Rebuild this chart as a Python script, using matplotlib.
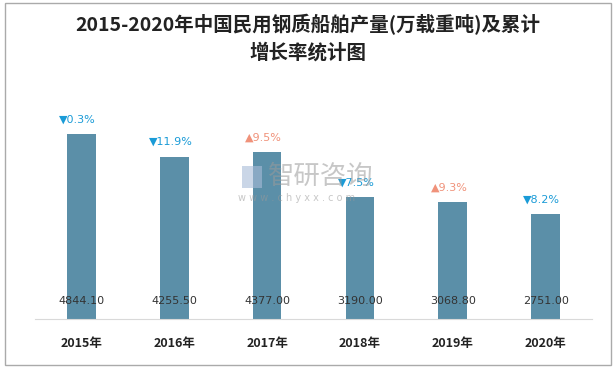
import numpy as np
import matplotlib
matplotlib.use('Agg')
import matplotlib.pyplot as plt
from matplotlib.patches import Rectangle

plt.rcParams['font.family'] = ['Noto Sans CJK SC', 'DejaVu Sans']

# データ
years = ['2015年', '2016年', '2017年', '2018年', '2019年', '2020年']
output = [4844.10, 4255.50, 4377.00, 3190.00, 3068.80, 2751.00]
growth = [-0.3, -11.9, 9.5, -7.5, 9.3, -8.2]

bar_color = '#5b8fa8'
down_color = '#1a9bd7'
up_color = '#f0927a'

fig = plt.figure(figsize=(6.16, 3.68), dpi=100)
ax = fig.add_axes([35 / 616, 1 - 319 / 368, 557 / 616, 229 / 368])

x = np.arange(len(years))
bars = ax.bar(x, output, width=0.31, color=bar_color, zorder=2)

ax.set_ylim(0, 6000)
ax.set_xlim(-0.5, len(years) - 0.5)
ax.set_yticks([])
ax.set_xticks(x)
ax.set_xticklabels(years, fontsize=9, fontweight='bold', color='#222222')
ax.tick_params(axis='x', length=0, pad=13)
for s in ['top', 'right', 'left']:
    ax.spines[s].set_visible(False)
ax.spines['bottom'].set_color('#d9d9d9')

# 値ラベル（棒の下部）
for xi, v in zip(x, output):
    ax.annotate(f'{v:.2f}', (xi, 0), xytext=(0, 9), textcoords='offset points',
                ha='center', va='bottom', fontsize=8, color='#333333',
                family=['DejaVu Sans'], zorder=3)

# 増減率ラベル
for xi, v, g in zip(x, output, growth):
    mark = '▲' if g > 0 else '▼'
    col = up_color if g > 0 else down_color
    ax.annotate(f'{mark}{abs(g):.1f}%', (xi - 0.04, v), xytext=(0, 7),
                textcoords='offset points', ha='center', va='bottom',
                fontsize=8, color=col, family=['DejaVu Sans'], zorder=3)

# タイトル
fig.text(0.5, 1 - 25 / 368, '2015-2020年中国民用钢质船舶产量(万载重吨)及累计',
         ha='center', va='center', fontsize=14, fontweight='bold', color='#222222')
fig.text(0.5, 1 - 53 / 368, '增长率统计图',
         ha='center', va='center', fontsize=14, fontweight='bold', color='#222222')

# ウォーターマーク
fig.text(268 / 616, 1 - 176 / 368, '智研咨询', ha='left', va='center',
         fontsize=19, color='#9a9a9a', alpha=0.55)
fig.text(238 / 616, 1 - 198 / 368, 'w w w . c h y x x . c o m', ha='left', va='center',
         fontsize=7, color='#9a9a9a', alpha=0.55, family=['DejaVu Sans'])
fig.patches.append(Rectangle((242 / 616, 1 - 188 / 368), 20 / 616, 22 / 368,
                             transform=fig.transFigure, facecolor='#a8bcd8',
                             alpha=0.6, edgecolor='none'))

# 外枠
fig.patches.append(Rectangle((5 / 616, 3 / 368), 606 / 616, 362 / 368,
                             transform=fig.transFigure, fill=False,
                             edgecolor='#aaaaaa', linewidth=1))

fig.savefig('out.png', dpi=100)
plt.close('all')
